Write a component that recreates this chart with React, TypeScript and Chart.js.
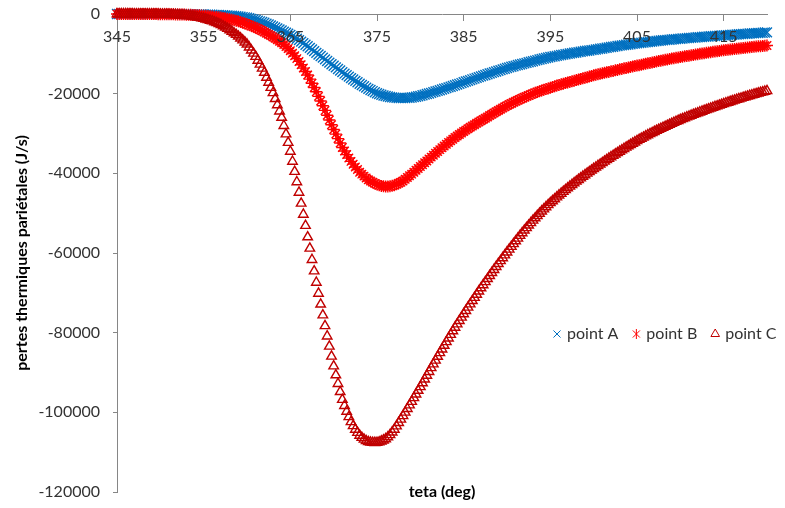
import React, { useEffect, useRef } from "react";
import { Chart, registerables } from "chart.js";

Chart.register(...registerables);

const DEG_START = 345;
const DEG_STEP = 0.25;
const X_MIN = 345;
const X_MAX = 420;
const X_TICKS = [345, 355, 365, 375, 385, 395, 405, 415];
const Y_MIN = -120000;
const Y_MAX = 0;
const Y_STEP = 20000;
const SERIES_NAMES = ["point A", "point B", "point C"];
const X_TITLE = "teta (deg)";
const Y_TITLE = "pertes thermiques pariétales (J/s)";

const POINT_A = [
  0,0,0,0, 0,0,0,0, 0,0,0,-5, -5,-5,-5,-8, -10,-12,-15,-17,
  -20,-22,-25,-27, -30,-35,-40,-45, -50,-55,-60,-65, -70,-77,-85,-92, -100,-110,-120,-130,
  -140,-155,-170,-185, -200,-220,-240,-260, -280,-310,-340,-370, -400,-450,-500,-560, -620,-700,-780,-860,
  -950,-1080,-1220,-1360, -1500,-1670,-1840,-2020, -2200,-2420,-2640,-2870, -3100,-3360,-3620,-3880, -4150,-4420,-4700,-4970,
  -5250,-5570,-5890,-6220, -6550,-6930,-7320,-7710, -8100,-8510,-8920,-9330, -9750,-10150,-10550,-10950, -11400,-11800,-12200,-12600,
  -13000,-13400,-13800,-14200, -14600,-14980,-15350,-15730, -16100,-16450,-16800,-17150, -17500,-17830,-18150,-18480, -18800,-19080,-19350,-19630,
  -19900,-20100,-20280,-20450, -20600,-20720,-20830,-20920, -21000,-21050,-21080,-21100, -21100,-21090,-21060,-21010, -20950,-20860,-20760,-20650,
  -20550,-20400,-20250,-20100, -19950,-19790,-19620,-19460, -19300,-19130,-18950,-18780, -18600,-18430,-18250,-18080, -17900,-17710,-17530,-17340,
  -17150,-16960,-16780,-16590, -16400,-16210,-16030,-15840, -15650,-15480,-15300,-15130, -14950,-14780,-14600,-14430, -14250,-14080,-13900,-13730,
  -13550,-13400,-13250,-13100, -12950,-12810,-12680,-12540, -12400,-12260,-12130,-11990, -11850,-11710,-11580,-11440, -11300,-11180,-11050,-10930,
  -10800,-10700,-10600,-10500, -10400,-10300,-10200,-10100, -10000,-9910,-9830,-9740, -9650,-9560,-9480,-9390, -9300,-9230,-9150,-9080,
  -9000,-8910,-8830,-8740, -8650,-8560,-8480,-8390, -8300,-8210,-8130,-8040, -7950,-7880,-7800,-7730, -7650,-7580,-7500,-7430,
  -7350,-7290,-7230,-7160, -7100,-7040,-6980,-6910, -6850,-6790,-6730,-6660, -6600,-6550,-6500,-6450, -6400,-6350,-6300,-6250,
  -6200,-6160,-6110,-6070, -6020,-5980,-5940,-5890, -5850,-5810,-5770,-5720, -5680,-5640,-5600,-5560, -5520,-5480,-5440,-5400,
  -5360,-5320,-5290,-5250, -5210,-5170,-5140,-5100, -5060,-5020,-4990,-4950, -4910,-4870,-4840,-4800, -4760,-4730,-4690,-4660,
  -4620,
];

const POINT_B = [
  0,0,0,0, 0,0,0,0, 0,0,-5,-5, -10,-12,-15,-17, -20,-25,-30,-35,
  -40,-47,-55,-62, -70,-80,-90,-100, -110,-125,-140,-155, -170,-190,-210,-230, -250,-290,-330,-375,
  -420,-465,-515,-565, -620,-685,-755,-825, -900,-995,-1090,-1195, -1300,-1430,-1565,-1705, -1850,-2020,-2190,-2370,
  -2550,-2770,-2990,-3220, -3450,-3710,-3970,-4230, -4500,-4810,-5120,-5430, -5750,-6110,-6470,-6830, -7200,-7680,-8170,-8680,
  -9200,-9850,-10500,-11200, -11900,-12740,-13580,-14440, -15300,-16350,-17400,-18450, -19500,-20680,-21850,-23020, -24200,-25400,-26600,-27800,
  -29000,-30150,-31280,-32400, -33500,-34400,-35300,-36150, -37000,-37700,-38400,-39050, -39700,-40200,-40700,-41150, -41600,-41920,-42250,-42550,
  -42800,-43000,-43150,-43250, -43300,-43280,-43220,-43130, -43000,-42770,-42500,-42220, -41900,-41480,-41050,-40630, -40200,-39730,-39250,-38780,
  -38300,-37830,-37350,-36880, -36400,-35930,-35450,-34980, -34500,-34050,-33600,-33150, -32700,-32280,-31850,-31430, -31000,-30630,-30250,-29880,
  -29500,-29150,-28800,-28450, -28100,-27780,-27450,-27130, -26800,-26480,-26150,-25830, -25500,-25180,-24850,-24530, -24200,-23900,-23600,-23300,
  -23000,-22730,-22450,-22180, -21900,-21650,-21400,-21150, -20900,-20680,-20450,-20230, -20000,-19800,-19600,-19400, -19200,-19030,-18850,-18680,
  -18500,-18330,-18150,-17980, -17800,-17650,-17500,-17350, -17200,-17050,-16900,-16750, -16600,-16450,-16300,-16150, -16000,-15850,-15700,-15550,
  -15400,-15280,-15150,-15030, -14900,-14780,-14650,-14530, -14400,-14280,-14150,-14030, -13900,-13780,-13650,-13530, -13400,-13290,-13180,-13060,
  -12950,-12840,-12730,-12610, -12500,-12390,-12280,-12160, -12050,-11940,-11830,-11710, -11600,-11500,-11400,-11300, -11200,-11100,-11000,-10900,
  -10800,-10710,-10630,-10540, -10450,-10360,-10280,-10190, -10100,-10010,-9930,-9840, -9750,-9670,-9590,-9500, -9420,-9340,-9260,-9180,
  -9100,-9040,-8980,-8910, -8850,-8790,-8730,-8660, -8600,-8540,-8480,-8410, -8350,-8290,-8240,-8180, -8120,-8070,-8010,-7960,
  -7900,
];

const POINT_C = [
  0,0,0,0, 0,0,-3,-6, -10,-12,-15,-17, -20,-25,-30,-35, -40,-47,-55,-62,
  -70,-82,-95,-107, -120,-140,-160,-190, -220,-260,-305,-350, -400,-470,-545,-620, -700,-810,-920,-1030,
  -1150,-1300,-1470,-1630, -1800,-2020,-2240,-2470, -2700,-3020,-3340,-3670, -4000,-4380,-4780,-5180, -5600,-6080,-6570,-7080,
  -7600,-8350,-9100,-9890, -10700,-11660,-12650,-13660, -14700,-15940,-17200,-18490, -19800,-21290,-22830,-24400, -26000,-28050,-30150,-32300,
  -34500,-37030,-39580,-42170, -44800,-47550,-50320,-53140, -56000,-58850,-61700,-64550, -67400,-70150,-72880,-75600, -78300,-80890,-83430,-85940,
  -88400,-90640,-92810,-94850, -96800,-98350,-99790,-101140, -102400,-103400,-104300,-105100, -105800,-106350,-106800,-107150, -107400,-107530,-107600,-107620,
  -107600,-107480,-107250,-107000, -106700,-106200,-105650,-105000, -104300,-103460,-102610,-101760, -100900,-100000,-99100,-98200, -97300,-96380,-95450,-94530,
  -93600,-92650,-91700,-90750, -89800,-88850,-87900,-86950, -86000,-85080,-84150,-83230, -82300,-81400,-80500,-79600, -78700,-77850,-77000,-76150,
  -75300,-74480,-73650,-72830, -72000,-71200,-70400,-69600, -68800,-68030,-67250,-66480, -65700,-64950,-64200,-63450, -62700,-61980,-61250,-60530,
  -59800,-59100,-58400,-57700, -57000,-56330,-55650,-54980, -54300,-53680,-53050,-52430, -51800,-51230,-50650,-50080, -49500,-48980,-48450,-47930,
  -47400,-46930,-46450,-45980, -45500,-45050,-44600,-44150, -43700,-43280,-42850,-42430, -42000,-41600,-41200,-40800, -40400,-40010,-39630,-39240,
  -38850,-38480,-38100,-37730, -37350,-36990,-36630,-36260, -35900,-35550,-35200,-34850, -34500,-34160,-33830,-33490, -33150,-32830,-32500,-32180,
  -31850,-31550,-31250,-30950, -30650,-30380,-30100,-29830, -29550,-29290,-29030,-28760, -28500,-28250,-28000,-27750, -27500,-27260,-27030,-26790,
  -26550,-26330,-26120,-25900, -25690,-25480,-25270,-25070, -24860,-24660,-24460,-24260, -24060,-23870,-23680,-23480, -23290,-23110,-22920,-22740,
  -22550,-22370,-22200,-22020, -21840,-21670,-21500,-21330, -21160,-21000,-20840,-20670, -20510,-20360,-20200,-20050, -19890,-19740,-19600,-19450,
  -19300,
];

const COLORS = ["#0070C0", "#FF0000", "#C00000"];
const STYLES = ["crossRot", "star", "triangle"];
const RADII = [7, 6, 5.5];
const WIDTHS = [1.4, 1.4, 1.4];
const FONT = "Lato, 'Open Sans', sans-serif";

const toPoints = (vals: number[]) =>
  vals.map((v, i) => ({ x: DEG_START + i * DEG_STEP, y: v }));

function drawMarker(ctx: CanvasRenderingContext2D, style: string, x: number, y: number, r: number) {
  ctx.beginPath();
  if (style === "crossRot") {
    const d = r * 0.707;
    ctx.moveTo(x - d, y - d); ctx.lineTo(x + d, y + d);
    ctx.moveTo(x - d, y + d); ctx.lineTo(x + d, y - d);
  } else if (style === "star") {
    const d = r * 0.707;
    ctx.moveTo(x - d, y - d); ctx.lineTo(x + d, y + d);
    ctx.moveTo(x - d, y + d); ctx.lineTo(x + d, y - d);
    ctx.moveTo(x, y - r); ctx.lineTo(x, y + r);
  } else {
    ctx.moveTo(x, y - r);
    ctx.lineTo(x + r * 0.866, y + r * 0.5);
    ctx.lineTo(x - r * 0.866, y + r * 0.5);
    ctx.closePath();
  }
  ctx.stroke();
}

const overlayPlugin = {
  id: "overlay",
  afterDraw(chart: any) {
    const { ctx, chartArea } = chart;
    ctx.save();
    ctx.font = `bold 16px ${FONT}`;
    ctx.fillStyle = "#000";
    ctx.textAlign = "center";
    ctx.textBaseline = "middle";
    ctx.fillText(X_TITLE, (chartArea.left + chartArea.right) / 2, 492);

    ctx.font = `16px ${FONT}`;
    ctx.textAlign = "left";
    let x = 551;
    const y = 334;
    SERIES_NAMES.forEach((name, i) => {
      ctx.strokeStyle = COLORS[i];
      ctx.lineWidth = 1;
      drawMarker(ctx, STYLES[i], x + 6, y, 5);
      ctx.fillStyle = "#333";
      ctx.fillText(name, x + 16, y);
      x += 16 + ctx.measureText(name).width + 12;
    });
    ctx.restore();
  },
};

export default function App() {
  const ref = useRef<HTMLCanvasElement | null>(null);
  useEffect(() => {
    if (!ref.current) return;
    const series = [POINT_A, POINT_B, POINT_C];
    const chart = new Chart(ref.current, {
      type: "scatter",
      data: {
        datasets: series.map((vals, i) => ({
          label: SERIES_NAMES[i],
          data: toPoints(vals),
          pointStyle: STYLES[i] as any,
          pointRadius: RADII[i],
          pointBorderWidth: WIDTHS[i],
          borderColor: COLORS[i],
          pointBorderColor: COLORS[i],
          backgroundColor: "rgba(0,0,0,0)",
          pointBackgroundColor: "rgba(0,0,0,0)",
          showLine: false,
          clip: false as any,
          order: 2 - i,
        })),
      },
      options: {
        animation: false,
        responsive: false,
        events: [],
        layout: { padding: { left: 0, top: 14, right: 18, bottom: 16 } },
        plugins: {
          legend: { display: false },
          tooltip: { enabled: false },
        },
        scales: {
          x: {
            type: "linear",
            position: { y: 0 } as any,
            min: X_MIN,
            max: X_MAX,
            afterBuildTicks: (scale: any) => {
              scale.ticks = X_TICKS.map((v) => ({ value: v }));
            },
            afterFit: (scale: any) => {
              scale.paddingLeft = 0;
              scale.paddingRight = 0;
            },
            grid: { display: true, drawOnChartArea: false, drawTicks: true, tickLength: 6, color: "#868686" },
            border: { display: true, color: "#868686" },
            ticks: {
              z: 1,
              color: "#333",
              font: { family: FONT, size: 16 },
              padding: 7,
              maxRotation: 0,
              autoSkip: false,
              callback: (v: any) => String(v),
            } as any,
          },
          y: {
            type: "linear",
            min: Y_MIN,
            max: Y_MAX,
            afterFit: (scale: any) => {
              scale.width = 117;
              scale.paddingTop = 0;
              scale.paddingBottom = 0;
            },
            grid: { display: true, drawOnChartArea: false, drawTicks: true, tickLength: 4, color: "#868686" },
            border: { display: true, color: "#868686" },
            ticks: {
              stepSize: Y_STEP,
              color: "#333",
              font: { family: FONT, size: 16 },
              padding: 13,
              callback: (v: any) => String(v),
            },
            title: {
              display: true,
              text: Y_TITLE,
              color: "#000",
              font: { family: FONT, size: 16, weight: "bold" },
              padding: { top: 12, bottom: 0 },
            },
          },
        },
      },
      plugins: [overlayPlugin],
    });
    return () => chart.destroy();
  }, []);
  return (
    <div style={{ position: "absolute", left: 0, top: 0, width: 785, height: 508, background: "#fff" }}>
      <canvas ref={ref} width={785} height={508} />
    </div>
  );
}
